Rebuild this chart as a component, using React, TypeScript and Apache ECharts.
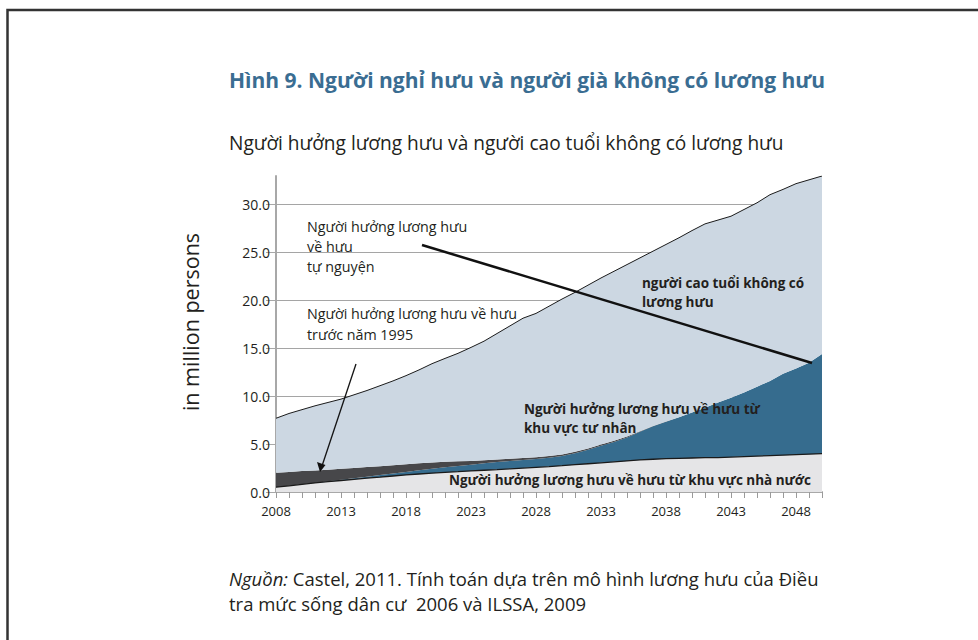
import React, { useEffect, useRef } from "react";
import * as echarts from "echarts";

const years = [
  "2008","2009","2010","2011","2012","2013","2014","2015","2016","2017",
  "2018","2019","2020","2021","2022","2023","2024","2025","2026","2027",
  "2028","2029","2030","2031","2032","2033","2034","2035","2036","2037",
  "2038","2039","2040","2041","2042","2043","2044","2045","2046","2047",
  "2048","2049","2050",
];

// Người hưởng lương hưu về hưu từ khu vực nhà nước
const publicSector = [
  0.5, 0.65, 0.8, 0.95, 1.08, 1.2, 1.32, 1.44, 1.55, 1.67,
  1.78, 1.88, 1.97, 2.05, 2.12, 2.2, 2.27, 2.34, 2.42, 2.5,
  2.58, 2.66, 2.75, 2.85, 2.95, 3.05, 3.15, 3.25, 3.35, 3.42,
  3.48, 3.52, 3.55, 3.58, 3.6, 3.65, 3.7, 3.75, 3.8, 3.85,
  3.9, 3.95, 4.0,
];

// Người hưởng lương hưu về hưu từ khu vực tư nhân
const privateSector = [
  0, 0, 0, 0, 0.03, 0.08, 0.11, 0.16, 0.22, 0.26,
  0.32, 0.4, 0.47, 0.54, 0.6, 0.65, 0.73, 0.8, 0.83, 0.85,
  0.86, 0.91, 1.01, 1.2, 1.46, 1.77, 2.08, 2.45, 2.93, 3.44,
  3.85, 4.28, 4.75, 5.22, 5.75, 6.2, 6.7, 7.25, 7.8, 8.5,
  9.0, 9.55, 10.4,
];

// Người hưởng lương hưu về hưu trước năm 1995
const pre1995 = [
  1.5, 1.45, 1.38, 1.3, 1.22, 1.14, 1.07, 1.0, 0.93, 0.87,
  0.8, 0.72, 0.64, 0.56, 0.48, 0.4, 0.32, 0.26, 0.23, 0.21,
  0.2, 0.18, 0.16, 0.15, 0.14, 0.13, 0.12, 0.1, 0.07, 0.04,
  0.02, 0, 0, 0, 0, 0, 0, 0, 0, 0,
  0, 0, 0,
];

// người cao tuổi không có lương hưu
const elderlyNoPension = [
  5.7, 6.1, 6.42, 6.75, 7.02, 7.28, 7.65, 8.0, 8.4, 8.8,
  9.25, 9.75, 10.32, 10.8, 11.28, 11.85, 12.43, 13.15, 13.87, 14.59,
  15.01, 15.65, 16.23, 16.65, 17.05, 17.4, 17.7, 17.95, 18.1, 18.25,
  18.5, 18.75, 19.0, 19.2, 19.05, 18.95, 19.1, 19.2, 19.45, 19.25,
  19.3, 19.1, 18.6,
];

const yTicks = [0, 5, 10, 15, 20, 25, 30];

const FONT = '"Open Sans", "Noto Sans", sans-serif';
const TXT = "#231f20";

export default function App() {
  const ref = useRef<HTMLDivElement>(null);

  useEffect(() => {
    if (!ref.current) return;
    const chart = echarts.init(ref.current, null, { renderer: "svg" });

    const area = (name: string, data: number[], color: string, line: any) => ({
      name,
      type: "line",
      stack: "total",
      data,
      symbol: "none",
      smooth: false,
      lineStyle: line,
      areaStyle: { color, opacity: 1 },
      emphasis: { disabled: true },
    });

    const Z = 100;

    chart.setOption({
      animation: false,
      textStyle: { fontFamily: FONT },
      grid: { left: 276, right: 156, top: 176, bottom: 148, containLabel: false },
      xAxis: {
        type: "category",
        data: years,
        boundaryGap: false,
        axisLine: { show: true, lineStyle: { color: "#a8a8a8", width: 2 } },
        axisTick: { show: true, interval: 0, length: 6, lineStyle: { color: "#9a9a9a", width: 1 } },
        axisLabel: { interval: 4, color: TXT, fontSize: 13, margin: 12, fontFamily: FONT },
        splitLine: { show: false },
      },
      yAxis: {
        type: "value",
        min: 0,
        max: 33,
        interval: 5,
        axisLine: { show: true, lineStyle: { color: "#a8a8a8", width: 2 } },
        axisTick: { show: true, length: 10, customValues: yTicks, lineStyle: { color: "#a8a8a8", width: 1 } },
        axisLabel: {
          customValues: yTicks,
          color: TXT,
          fontSize: 14,
          margin: 6,
          fontFamily: FONT,
          formatter: (v: number) => v.toFixed(1),
        },
        splitLine: { show: true, showMinLine: false, lineStyle: { color: "#a5a5a5", width: 1 } },
      },
      series: [
        area("Người hưởng lương hưu về hưu từ khu vực nhà nước", publicSector, "#e5e5e7", { color: "#1a1a1a", width: 1.3 }),
        area("Người hưởng lương hưu về hưu từ khu vực tư nhân", privateSector, "#366c8e", { width: 0 }),
        area("Người hưởng lương hưu về hưu trước năm 1995", pre1995, "#47474a", { width: 0 }),
        area("người cao tuổi không có lương hưu", elderlyNoPension, "#ccd7e2", { color: "#1a1a1a", width: 1 }),
      ],
      graphic: [
        {
          type: "rect",
          z: Z,
          shape: { x: 7.5, y: 10, width: 1100, height: 800 },
          style: { fill: "none", stroke: "#333", lineWidth: 2.5 },
          silent: true,
        },
        {
          type: "text",
          z: Z,
          x: 229,
          y: 80,
          style: {
            text: "Hình 9. Người nghỉ hưu và người già không có lương hưu",
            fill: "#3a6d92",
            font: `bold 21px ${FONT}`,
            textAlign: "left",
            textVerticalAlign: "middle",
          },
        },
        {
          type: "text",
          z: Z,
          x: 229,
          y: 143,
          style: {
            text: "Người hưởng lương hưu và người cao tuổi không có lương hưu",
            fill: TXT,
            font: `19.1px ${FONT}`,
            textAlign: "left",
            textVerticalAlign: "middle",
          },
        },
        {
          type: "text",
          z: Z,
          x: 190,
          y: 322,
          rotation: Math.PI / 2,
          style: {
            text: "in million persons",
            fill: TXT,
            font: `21.5px ${FONT}`,
            textAlign: "center",
            textVerticalAlign: "middle",
          },
        },
        {
          type: "text",
          z: Z,
          x: 307,
          y: 216,
          style: {
            text: "Người hưởng lương hưu\nvề hưu\ntự nguyện",
            fill: TXT,
            font: `14.3px ${FONT}`,
            lineHeight: 20,
            textAlign: "left",
            textVerticalAlign: "top",
          },
        },
        {
          type: "text",
          z: Z,
          x: 307,
          y: 302.5,
          style: {
            text: "Người hưởng lương hưu về hưu\ntrước năm 1995",
            fill: TXT,
            font: `14.3px ${FONT}`,
            lineHeight: 21,
            textAlign: "left",
            textVerticalAlign: "top",
          },
        },
        {
          type: "text",
          z: Z,
          x: 642,
          y: 273.5,
          style: {
            text: "người cao tuổi không có\nlương hưu",
            fill: TXT,
            font: `bold 13.5px ${FONT}`,
            lineHeight: 19,
            textAlign: "left",
            textVerticalAlign: "top",
          },
        },
        {
          type: "text",
          z: Z,
          x: 524,
          y: 399.5,
          style: {
            text: "Người hưởng lương hưu về hưu từ\nkhu vực tư nhân",
            fill: TXT,
            font: `bold 13.5px ${FONT}`,
            lineHeight: 19,
            textAlign: "left",
            textVerticalAlign: "top",
          },
        },
        {
          type: "text",
          z: Z,
          x: 449,
          y: 480,
          style: {
            text: "Người hưởng lương hưu về hưu từ khu vực nhà nước",
            fill: TXT,
            font: `bold 13.5px ${FONT}`,
            textAlign: "left",
            textVerticalAlign: "middle",
          },
        },
        {
          type: "line",
          z: Z,
          shape: { x1: 422, y1: 245, x2: 812, y2: 363 },
          style: { stroke: "#111", lineWidth: 2.5 },
          silent: true,
        },
        {
          type: "line",
          z: Z,
          shape: { x1: 356, y1: 364, x2: 322, y2: 466 },
          style: { stroke: "#111", lineWidth: 1.3 },
          silent: true,
        },
        {
          type: "polygon",
          z: Z,
          shape: { points: [[320, 472], [317, 462], [325.5, 465]] },
          style: { fill: "#111" },
          silent: true,
        },
        {
          type: "text",
          z: Z,
          x: 229,
          y: 565.5,
          style: {
            text: "{i|Nguồn:} Castel, 2011. Tính toán dựa trên mô hình lương hưu của Điều\ntra mức sống dân cư  2006 và ILSSA, 2009",
            fill: TXT,
            font: `18.5px ${FONT}`,
            lineHeight: 25,
            textAlign: "left",
            textVerticalAlign: "top",
            rich: {
              i: { fontStyle: "italic", fontSize: 18.5, fontFamily: FONT, fill: TXT, lineHeight: 25 },
            },
          },
        },
      ],
    });

    return () => chart.dispose();
  }, []);

  return (
    <div
      ref={ref}
      style={{ position: "fixed", left: 0, top: 0, width: 978, height: 640, background: "#fff" }}
    />
  );
}
